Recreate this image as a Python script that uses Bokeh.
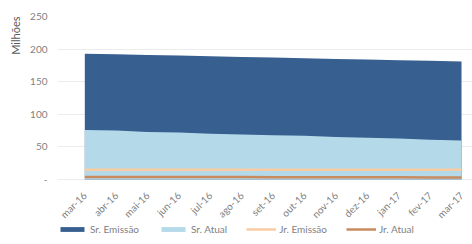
import math
from bokeh.plotting import figure
from bokeh.models import FixedTicker, Legend, LegendItem, Title, ColumnDataSource
from bokeh.embed import file_html
from bokeh.resources import INLINE

months = ["mar-16", "abr-16", "mai-16", "jun-16", "jul-16", "ago-16", "set-16",
          "out-16", "nov-16", "dez-16", "jan-17", "fev-17", "mar-17"]
sr_emissao = [193, 192, 191, 190, 189, 188, 187, 186, 185, 184, 183, 182, 181]
sr_atual = [76, 75, 73, 72, 70, 69, 68, 67, 65, 64, 63, 61, 60]
jr_emissao = [15, 15, 15, 15, 15, 15, 15, 15, 15, 15, 15, 15, 15]
jr_atual = [4, 4, 4, 4, 4, 4, 3.5, 3.5, 3.5, 3.5, 3.5, 3, 3]
y_ticks = [0, 50, 100, 150, 200, 250]

FONT = "Lato"
GREY = "#7f7f7f"
FS = "10px"

idx = list(range(len(months)))
src = ColumnDataSource(dict(x=idx, se=sr_emissao, sa=sr_atual, je=jr_emissao, ja=jr_atual,
                            z=[0] * len(idx)))

p = figure(width=472, height=244, output_backend="svg", toolbar_location=None,
           x_range=(-0.87, 12.35), y_range=(-99.7, 250),
           min_border_left=56, min_border_right=0, min_border_top=16, min_border_bottom=0)
p.outline_line_color = None
p.background_fill_color = "white"

r1 = p.varea(x="x", y1="z", y2="se", source=src, fill_color="#375F90")
r2 = p.varea(x="x", y1="z", y2="sa", source=src, fill_color="#B4D9E8")
r3 = p.line(x="x", y="je", source=src, line_color="#F9CBA3", line_width=2.5)
r4 = p.line(x="x", y="ja", source=src, line_color="#C98B5E", line_width=2.5)

p.xaxis.fixed_location = 0
p.xaxis.ticker = FixedTicker(ticks=idx)
p.xaxis.major_label_overrides = {i: m for i, m in enumerate(months)}
p.xaxis.major_label_orientation = math.pi / 4
p.xaxis.axis_line_color = None
p.xaxis.major_tick_line_color = None
p.xaxis.minor_tick_line_color = None
p.xaxis.major_label_text_font = FONT
p.xaxis.major_label_text_font_size = FS
p.xaxis.major_label_text_color = GREY
p.xaxis.major_label_standoff = 8

p.yaxis.ticker = FixedTicker(ticks=y_ticks)
p.yaxis.major_label_overrides = {0: "-", 50: "50", 100: "100", 150: "150", 200: "200", 250: "250"}
p.yaxis.axis_line_color = None
p.yaxis.major_tick_line_color = None
p.yaxis.minor_tick_line_color = None
p.yaxis.major_label_text_font = FONT
p.yaxis.major_label_text_font_size = FS
p.yaxis.major_label_text_color = GREY
p.yaxis.major_label_standoff = 4

p.xgrid.grid_line_color = None
p.ygrid.grid_line_color = "#ececec"
p.ygrid.ticker = FixedTicker(ticks=y_ticks)

p.add_layout(Title(text="Milhões", align="right", text_font=FONT, text_font_size="11px",
                   text_font_style="normal", text_color="#595959", standoff=12), "left")

legend = Legend(items=[LegendItem(label="Sr. Emissão", renderers=[r1]),
                       LegendItem(label="Sr. Atual", renderers=[r2]),
                       LegendItem(label="Jr. Emissão", renderers=[r3]),
                       LegendItem(label="Jr. Atual", renderers=[r4])],
                orientation="horizontal", location=(0, 9),
                glyph_width=30, glyph_height=6, label_height=10,
                label_standoff=3, spacing=19, padding=0, margin=0,
                label_text_font=FONT, label_text_font_size=FS,
                label_text_color=GREY, border_line_color=None,
                background_fill_alpha=0)
p.add_layout(legend)

open("out.html", "w").write(file_html(p, INLINE))
